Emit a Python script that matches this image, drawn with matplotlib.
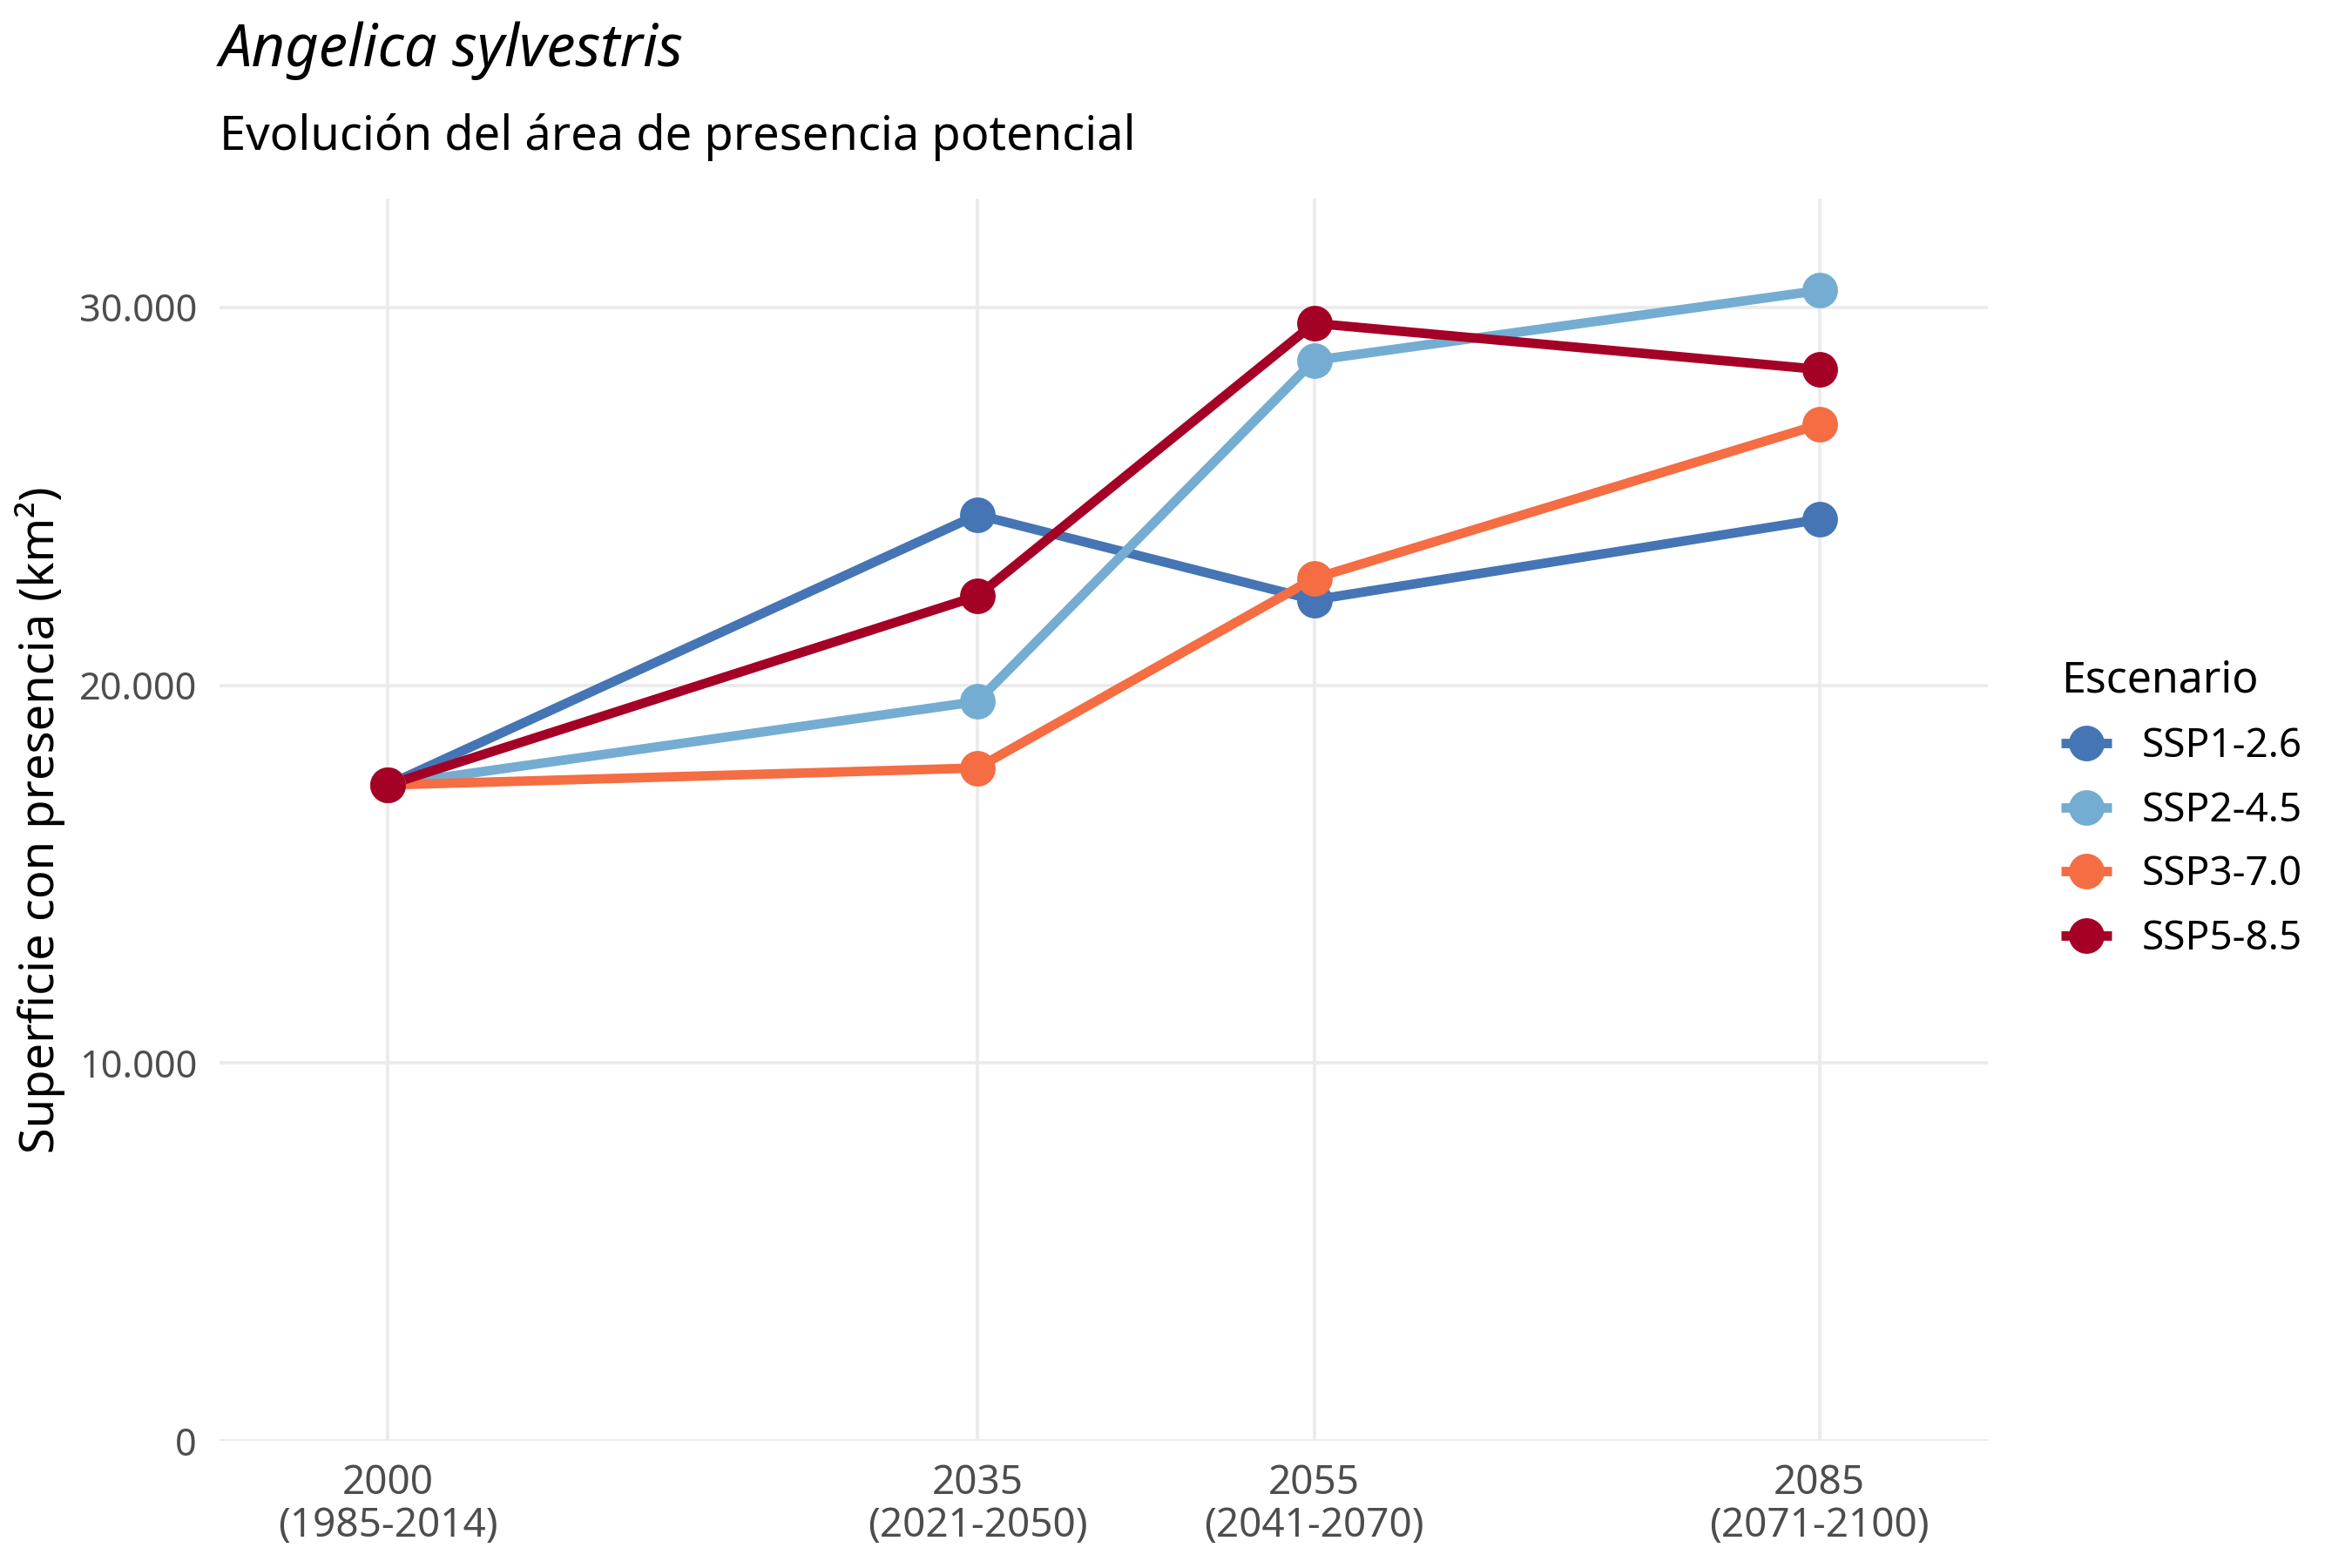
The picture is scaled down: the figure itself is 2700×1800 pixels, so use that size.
import matplotlib.pyplot as plt
from matplotlib.ticker import FuncFormatter

plt.rcParams['font.family'] = ['Noto Sans', 'DejaVu Sans']

# periodos (año central y rango)
years = [2000, 2035, 2055, 2085]
periods = ["(1985-2014)", "(2021-2050)", "(2041-2070)", "(2071-2100)"]

scenarios = ["SSP1-2.6", "SSP2-4.5", "SSP3-7.0", "SSP5-8.5"]
colors = ["#4575b4", "#74add1", "#f46d43", "#a50026"]

ssp126 = [17360, 24510, 22260, 24390]
ssp245 = [17360, 19570, 28600, 30450]
ssp370 = [17360, 17810, 22830, 26900]
ssp585 = [17360, 22360, 29580, 28360]
values = [ssp126, ssp245, ssp370, ssp585]

fig = plt.figure(figsize=(9, 6), dpi=300)
ax = fig.add_axes([0.0933, 0.0811, 0.7519, 0.7922])

for vals, col in zip(values, colors):
    ax.plot(years, vals, color=col, lw=2.6, solid_capstyle='butt', zorder=2)
for vals, col, name in zip(values, colors, scenarios):
    ax.plot(years, vals, color=col, marker='o', markersize=8.8,
            linestyle='none', zorder=3)

# handles para la leyenda (línea + punto)
handles = [plt.Line2D([], [], color=c, lw=2.6, marker='o', markersize=8.8,
                      solid_capstyle='butt') for c in colors]

ax.set_xlim(1990, 2095)
ax.set_ylim(0, 32880)
ax.set_xticks(years)
ax.set_xticklabels([f"{y}\n{p}" for y, p in zip(years, periods)], linespacing=1.08)
ax.set_yticks([0, 10000, 20000, 30000])
ax.yaxis.set_major_formatter(FuncFormatter(lambda v, p: f"{int(v):,}".replace(",", ".")))

for s in ax.spines.values():
    s.set_visible(False)
ax.grid(True, color="#ebebeb", lw=0.9)
ax.set_axisbelow(True)
ax.tick_params(length=0, labelcolor="#4d4d4d")
ax.tick_params(axis='x', pad=6.2, labelsize=11)
ax.tick_params(axis='y', pad=6.2, labelsize=10.4)

fig.text(0.017, 0.477, "Superficie con presencia (km²)", rotation=90,
         ha='center', va='center', fontsize=13)

fig.text(0.0933, 0.9575, "Angelica sylvestris", fontsize=16, style='italic',
         va='baseline')
fig.text(0.0933, 0.9044, "Evolución del área de presencia potencial", fontsize=13,
         va='baseline')

leg = ax.legend(handles, scenarios, title="Escenario", loc='center left',
                bbox_to_anchor=(1.021, 0.5086), frameon=False, fontsize=11,
                title_fontsize=12, handlelength=1.27, handletextpad=0.76,
                labelspacing=0.6, alignment='left')

fig.savefig("out.png")
